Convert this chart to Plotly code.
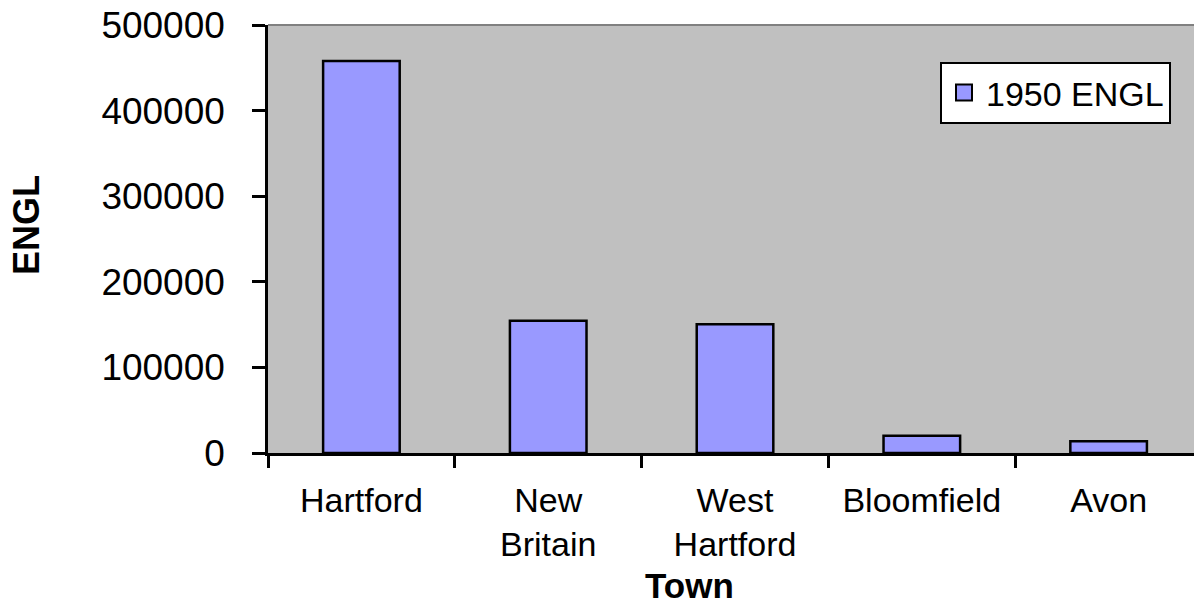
import plotly.graph_objects as go

towns = ["Hartford", "New<br>Britain", "West<br>Hartford", "Bloomfield", "Avon"]
engl_1950 = [458000, 154500, 150500, 20200, 13700]
y_ticks = [0, 100000, 200000, 300000, 400000, 500000]

FONT = "Arial, Liberation Sans, sans-serif"
L, R, T, B = 268, 1194, 25, 453
PW, PH = R - L, B - T

def px_x(x):
    return (x - L) / PW

def px_y(y):
    return (B - y) / PH

fig = go.Figure()
fig.add_trace(go.Bar(
    x=towns, y=engl_1950, name="1950 ENGL", showlegend=False,
    marker=dict(color="#9999FF", line=dict(color="black", width=2.5)),
    width=0.41,
))
# legend entry for the series (larger square swatch)
fig.add_trace(go.Scatter(
    x=[None], y=[None], mode="markers", name="1950 ENGL",
    marker=dict(symbol="square", size=19, color="#9999FF",
                line=dict(color="black", width=2)),
))

fig.update_layout(
    width=1194, height=606,
    margin=dict(l=L, r=1194 - R, t=T, b=606 - B),
    paper_bgcolor="white", plot_bgcolor="#C0C0C0",
    font=dict(family=FONT, size=35, color="black"),
    showlegend=True,
    legend=dict(x=px_x(940), y=px_y(62), xanchor="left", yanchor="top",
                bgcolor="white", bordercolor="black", borderwidth=2,
                font=dict(size=34), itemwidth=34),
    xaxis=dict(
        type="category", range=[-0.5, 4.457],
        showline=True, linecolor="black", linewidth=2.5,
        ticks="outside", ticklen=12, tickwidth=2.5, tickcolor="black",
        tickson="boundaries", showgrid=False,
        tickfont=dict(size=34),
        ticklabelstandoff=15,
    ),
    yaxis=dict(
        range=[0, 500000], tickvals=y_ticks,
        ticktext=[str(v) for v in y_ticks],
        showline=True, linecolor="black", linewidth=2.5,
        ticks="outside", ticklen=13, tickwidth=2.5, tickcolor="black",
        showgrid=False, zeroline=False,
        tickfont=dict(size=37),
        ticklabelstandoff=20,
    ),
    shapes=[dict(type="line", xref="paper", yref="paper", x0=0, x1=1, y0=1, y1=1,
                 line=dict(color="#808080", width=2))],
    annotations=[
        dict(text="<b>Town</b>", xref="paper", yref="paper",
             x=px_x(689), y=px_y(606), xanchor="center", yanchor="bottom",
             showarrow=False, font=dict(size=35), borderpad=0),
        dict(text="<b>ENGL</b>", xref="paper", yref="paper",
             x=px_x(26), y=px_y(225), xanchor="center", yanchor="middle",
             textangle=-90, showarrow=False, font=dict(size=36)),
    ],
)

fig.write_html("out.html")
